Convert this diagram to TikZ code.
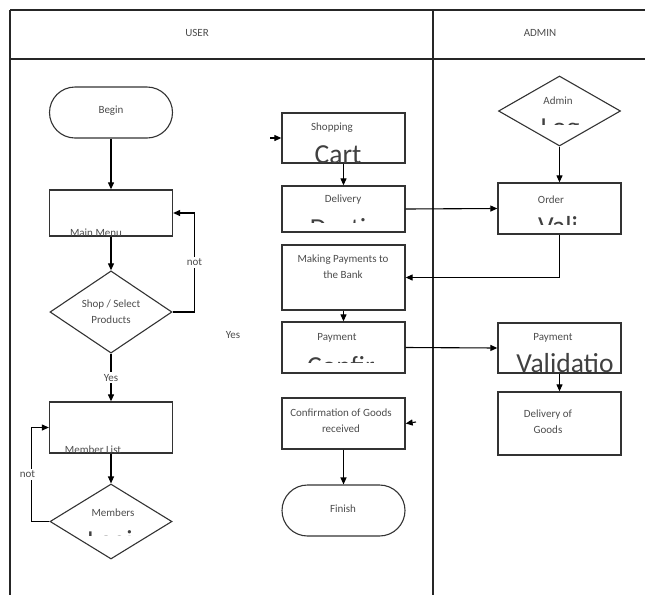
\documentclass[tikz,border=0pt]{standalone}
\usepackage{fontspec}
\setmainfont{Carlito}
\usetikzlibrary{arrows.meta,shapes.geometric,shapes.misc}

\begin{document}
\begin{tikzpicture}[x=1pt,y=-1pt,>={Triangle[length=7pt,width=6pt]},
	main_box/.style={rectangle,draw=black!80,line width=1.3pt,minimum width=123pt,inner sep=0pt},
	end_node/.style={rounded rectangle,draw=black!80,line width=1.1pt,minimum width=123pt,minimum height=51pt,inner sep=0pt},
	dec_node/.style={diamond,draw=black!80,line width=1.1pt,inner sep=0pt,minimum width=122pt},
	txt/.style={font=\fontsize{11}{16}\selectfont,text=black!70,align=center,inner sep=0pt},
	big/.style={font=\fontsize{27.5}{30}\selectfont,text=black!75,inner sep=0pt,anchor=base},
	lbl/.style={txt,fill=white,inner sep=1.5pt},
	flow/.style={line width=1.1pt,->}]

	\useasboundingbox (0,0) rectangle (645,595);

	% lanes
	\draw[line width=1.2pt, black!85] (10,10) -- (645,10);
	\draw[line width=1.2pt, black!85] (10,59) -- (645,59);
	\draw[line width=1.2pt, black!85] (10,10) -- (10,595);
	\draw[line width=1.8pt, black!85] (433,10) -- (433,595);
	\node[txt] (u) at (197,33) {USER};
	\node[txt] (v) at (540,33) {ADMIN};

	% user lane, left
	\node[end_node] (1) at (111,112.5) {};
	\node[txt] (1t) at (111,111) {Begin};
	\node[main_box, minimum height=46pt, label={[txt,anchor=base,xshift=-15pt]south:Main Menu}] (2) at (111,213) {};
	\node[dec_node, minimum height=72pt, txt, text=black!70] (3) at (111,312) {Shop / Select\\Products};
	\node[txt] (y1) at (233,335) {Yes};
	\node[main_box, minimum height=51pt, label={[txt,anchor=base,xshift=-18pt]south:Member List}] (4) at (111,427.5) {};
	\node[dec_node, minimum height=75pt] (5) at (111,521.5) {};
	\node[txt] (5t) at (113,513) {Members};
	\begin{scope}
		\clip (60,500) rectangle (160,535);
		\node[big] (5b) at (110,549) {Logi};
	\end{scope}

	% user lane, middle
	\node[main_box, minimum height=50pt] (6) at (343.5,138) {};
	\node[txt] (6t) at (332,128) {Shopping};
	\node[big] (6b) at (338,163) {Cart};
	\node[main_box, minimum height=46pt] (7) at (343.5,209) {};
	\node[txt] (7t) at (343,200) {Delivery};
	\begin{scope}
		\clip (284,188) rectangle (403,222);
		\node[big] (7b) at (338,237) {Desti};
	\end{scope}
	\node[main_box, minimum height=65pt] (8) at (343.5,277.5) {};
	\node[txt] (8t) at (343,266.5) {Making Payments to\\the Bank};
	\node[main_box, minimum height=51pt] (9) at (343.5,347.5) {};
	\node[txt] (9t) at (337,338) {Payment};
	\begin{scope}
		\clip (284,324) rectangle (403,362);
		\node[big] (9b) at (341,375) {Confir};
	\end{scope}
	\node[main_box, minimum height=51pt] (10) at (343.5,423.5) {};
	\node[txt] (10t) at (341,421) {Confirmation of Goods\\received};
	\node[end_node] (11) at (343.5,510.5) {};
	\node[txt] (11t) at (343,509) {Finish};

	% admin lane
	\node[dec_node, minimum height=70pt] (12) at (559.5,111) {};
	\node[txt] (12t) at (558,101) {Admin};
	\begin{scope}
		\clip (510,100) rectangle (610,124);
		\node[big] (12b) at (560,136.5) {Log};
	\end{scope}
	\node[main_box, minimum height=51pt] (13) at (559.5,208.5) {};
	\node[txt] (13t) at (551,200) {Order};
	\begin{scope}
		\clip (500,185) rectangle (619,224);
		\node[big] (13b) at (558,235) {Vali};
	\end{scope}
	\node[main_box, minimum height=50pt] (14) at (559.5,348) {};
	\node[txt] (14t) at (553,338) {Payment};
	\node[big] (14b) at (565,372) {Validatio};
	\node[main_box, minimum height=63pt] (15) at (559.5,423.5) {};
	\node[txt] (15t) at (548,421.5) {Delivery of\\Goods};

	\coordinate (6a) at (270,138);
	\coordinate (10a) at (416,422);

	\draw[flow] (1) -- (2);
	\draw[flow] (2) -- (3);
	\draw[flow] (3.east) -- ++(22,0) |- node[lbl, pos=0.25] {not} (2.east);
	\draw[flow] (3) -- node[lbl] {Yes} (4);
	\draw[flow] (4) -- (5);
	\draw[flow] (5.west) -- ++(-18,0) |- node[lbl, pos=0.25, xshift=-4pt] {not} (4.west);

	\draw[flow] (6a) -- (6.west);
	\draw[flow] (6) -- (7);
	\draw[flow] (7.east) -- (13.west);
	\draw[flow] (13.south) |- (8.east);
	\draw[flow] (8) -- (9);
	\draw[flow] (9.east) -- (14.west);
	\draw[flow] (10a) -- (10.east);
	\draw[flow] (10) -- (11);

	\draw[flow] (12) -- (13);
	\draw[flow] (14) -- (15);
\end{tikzpicture}
\end{document}
